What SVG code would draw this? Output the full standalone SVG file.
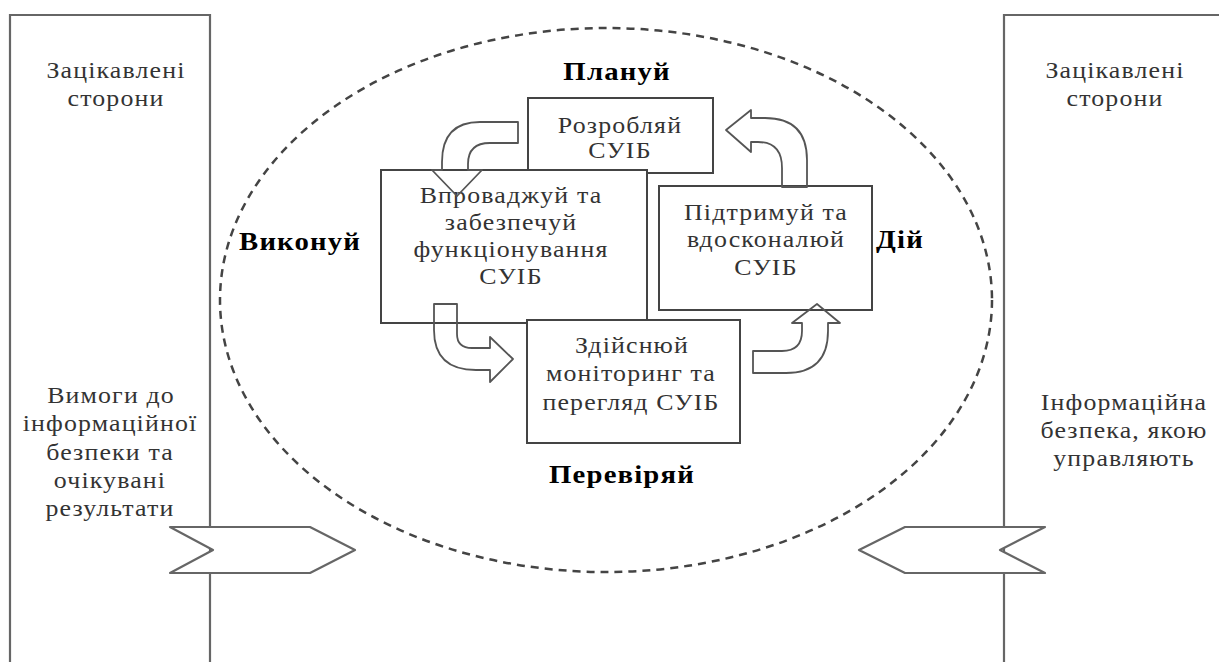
<svg xmlns="http://www.w3.org/2000/svg" width="1219" height="662" viewBox="0 0 1219 662">
<defs>
<style>
text{font-family:'Liberation Serif','DejaVu Serif',serif;text-anchor:middle}
.t{font-size:22.5px;fill:#333;letter-spacing:1px}
.b{font-size:25px;font-weight:bold;fill:#000;letter-spacing:1px}
.panel{fill:none;stroke:#666;stroke-width:2.2}
.box{fill:#fff;stroke:#444;stroke-width:2}
.arr{fill:none;stroke:#555;stroke-width:1.8;stroke-linejoin:round}
.chev{fill:#fff;stroke:#666;stroke-width:2.2;stroke-linejoin:round}
.ell{fill:none;stroke:#444;stroke-width:2.5;stroke-dasharray:8 6}
</style>
</defs>
<rect width="1219" height="662" fill="#fff"/>

<g id="left-panel">
<path class="panel" d="M10,670 L10,15 L210,15 L210,670"/>
<text class="t" transform="translate(116 78) scale(1.15 1)">Зацікавлені</text>
<text class="t" transform="translate(116 106) scale(1.15 1)">сторони</text>
<text class="t" transform="translate(111 403) scale(1.15 1)">Вимоги до</text>
<text class="t" transform="translate(110 431) scale(1.15 1)">інформаційної</text>
<text class="t" transform="translate(110 460) scale(1.15 1)">безпеки та</text>
<text class="t" transform="translate(110 488) scale(1.15 1)">очікувані</text>
<text class="t" transform="translate(110 516) scale(1.15 1)">результати</text>
</g>

<g id="right-panel">
<path class="panel" d="M1004,670 L1004,15 L1225,15"/>
<text class="t" transform="translate(1115 78) scale(1.15 1)">Зацікавлені</text>
<text class="t" transform="translate(1115 106) scale(1.15 1)">сторони</text>
<text class="t" transform="translate(1124 410) scale(1.15 1)">Інформаційна</text>
<text class="t" transform="translate(1124 438) scale(1.15 1)">безпека, якою</text>
<text class="t" transform="translate(1124 466) scale(1.15 1)">управляють</text>
</g>

<g id="cycle">
<ellipse class="ell" cx="606" cy="300" rx="386" ry="272"/>
<text class="b" transform="translate(617 80) scale(1.15 1)">Плануй</text>
<text class="b" transform="translate(300 250) scale(1.15 1)">Виконуй</text>
<text class="b" transform="translate(900 248) scale(1.15 1)">Дій</text>
<text class="b" transform="translate(622 483) scale(1.15 1)">Перевіряй</text>
</g>

<g id="plan">
<rect class="box" x="528" y="98" width="185" height="75"/>
<text class="t" transform="translate(620 133) scale(1.15 1)">Розробляй</text>
<text class="t" transform="translate(620 158) scale(1.15 1)">СУІБ</text>
</g>

<g id="do">
<rect class="box" x="381" y="170" width="266" height="153"/>
<text class="t" transform="translate(511 203) scale(1.15 1)">Впроваджуй та</text>
<text class="t" transform="translate(511 230) scale(1.15 1)">забезпечуй</text>
<text class="t" transform="translate(511 257) scale(1.15 1)">функціонування</text>
<text class="t" transform="translate(511 284) scale(1.15 1)">СУІБ</text>
</g>

<g id="act">
<rect class="box" x="659" y="186" width="213" height="124"/>
<text class="t" transform="translate(766 220) scale(1.15 1)">Підтримуй та</text>
<text class="t" transform="translate(766 247) scale(1.15 1)">вдосконалюй</text>
<text class="t" transform="translate(766 275) scale(1.15 1)">СУІБ</text>
</g>

<g id="check">
<rect class="box" x="527" y="320" width="213" height="123"/>
<text class="t" transform="translate(632 353) scale(1.15 1)">Здійснюй</text>
<text class="t" transform="translate(631 381) scale(1.15 1)">моніторинг та</text>
<text class="t" transform="translate(631 410) scale(1.15 1)">перегляд СУІБ</text>
</g>

<g id="connectors">
<path class="arr" d="M518,122 L480,122 Q442,122 442,162 L442,170 L432,170 L457,196 L482,170 L468,170 L468,164 Q468,143 490,143 L518,143 Z"/>
<path class="arr" d="M782,187 L782,168 Q782,142 758,142 L751,142 L751,152 L726,130 L751,110 L751,118 L765,118 Q807,118 807,160 L807,187 Z"/>
<path class="arr" d="M434,304 L457,304 L457,334 Q457,348 472,348 L490,348 L490,337 L513,359 L490,382 L490,370 L476,370 Q434,370 434,330 Z"/>
<path class="arr" d="M753,351 L782,351 Q802,351 802,331 L802,323 L792,323 L817,304 L840,323 L828,323 L828,331 Q828,373 786,373 L753,373 Z"/>
<polygon class="chev" points="170,527 310,527 355,550 310,573 170,573 213,550"/>
<polygon class="chev" points="859,550 905,527 1045,527 1000,550 1045,573 905,573"/>
</g>
</svg>
